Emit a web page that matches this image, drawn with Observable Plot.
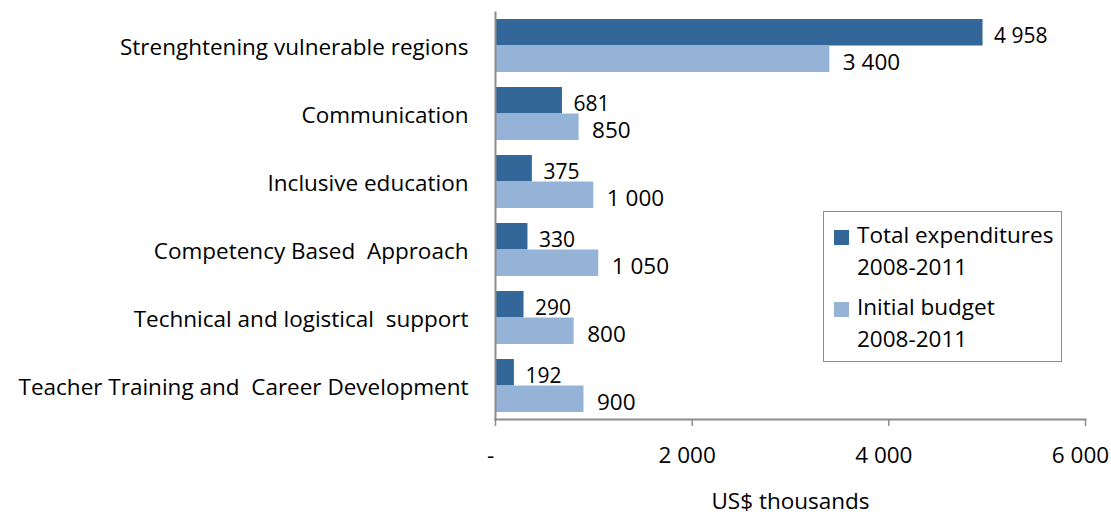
<!DOCTYPE html>
<html>
<head>
<meta charset="utf-8">
<script src="https://cdn.jsdelivr.net/npm/d3@7"></script>
<script src="https://cdn.jsdelivr.net/npm/@observablehq/plot@0.6"></script>
<style>
  html, body { margin: 0; padding: 0; background: #fff; }
  #wrap { position: relative; width: 1111px; height: 516px; font-family: "Open Sans", sans-serif; }
  #legend { position: absolute; left: 823px; top: 211px; width: 239px; height: 151px; box-sizing: border-box;
    border: 1.5px solid #8c8c8c; background: #fff; font-size: 22.5px; color: #000; }
  .item { position: absolute; left: 10px; }
  .sw { position: absolute; left: 0; width: 15px; height: 15px; }
  .lab { position: absolute; left: 23px; line-height: 32px; white-space: nowrap; }
</style>
</head>
<body>
<div id="wrap"><div id="chart"></div>
<div id="legend"></div>
</div>
<script>
const categories = [
  "Strenghtening vulnerable regions",
  "Communication",
  "Inclusive education",
  "Competency Based  Approach",
  "Technical and logistical  support",
  "Teacher Training and  Career Development"
];
const totalExpenditures = [4958, 681, 375, 330, 290, 192];
const initialBudget = [3400, 850, 1000, 1050, 800, 900];
const seriesNames = ["Total expenditures 2008-2011", "Initial budget 2008-2011"];
const seriesColors = ["#336699", "#95b3d7"];
const xTicks = [0, 2000, 4000, 6000];
const xLabel = "US$ thousands";

const fmt = d3.formatLocale({decimal: ".", thousands: " ", grouping: [3], currency: ["", ""]}).format(",d");
const dark = categories.map((c, i) => ({category: c, value: totalExpenditures[i]}));
const light = categories.map((c, i) => ({category: c, value: initialBudget[i]}));

const half = 26.5;
const chart = Plot.plot({
  width: 1111,
  height: 516,
  marginLeft: 495,
  marginRight: 26,
  marginTop: 12,
  marginBottom: 97,
  style: {fontFamily: "'Open Sans', sans-serif", fontSize: "22.5px", color: "#000", background: "#fff"},
  x: {domain: [0, 6000]},
  y: {domain: categories, paddingInner: 0.22, paddingOuter: 0.1},
  marks: [
    Plot.barX(dark, {y: "category", x: "value", fill: seriesColors[0], insetBottom: half}),
    Plot.barX(light, {y: "category", x: "value", fill: seriesColors[1], insetTop: half}),
    Plot.text(dark, {y: "category", x: "value", text: d => fmt(d.value), textAnchor: "start", dx: 11, dy: -10, fontSize: 21, fill: "#000"}),
    Plot.text(light, {y: "category", x: "value", text: d => fmt(d.value), textAnchor: "start", dx: 13, dy: 17, fontSize: 22.5, fill: "#000"}),
    Plot.axisX({ticks: xTicks, tickSize: 7, stroke: "#8c8c8c", strokeWidth: 1.5, text: null, label: null}),
    Plot.frame({anchor: "left", stroke: "#8c8c8c", strokeWidth: 2}),
    Plot.frame({anchor: "bottom", stroke: "#8c8c8c", strokeWidth: 2}),
    Plot.axisY({tickSize: 0, tickPadding: 27, fontSize: 22.5, dy: 2, label: null}),
    Plot.axisX({ticks: xTicks, tickSize: 0, tickPadding: 28, fontSize: 22.5, dx: -5, label: null,
      tickFormat: d => d === 0 ? "-" : fmt(d)}),
    Plot.text([xLabel], {frameAnchor: "bottom", dy: 89, fontSize: 22.5, fill: "#000"})
  ]
});
document.getElementById("chart").appendChild(chart);

const legend = document.getElementById("legend");
const tops = [7, 79];
seriesNames.forEach((name, i) => {
  const parts = name.split(" 2008");
  const item = document.createElement("div");
  item.className = "item";
  item.style.top = tops[i] + "px";
  item.innerHTML = `<div class="sw" style="top:11px;background:${seriesColors[i]}"></div>
    <div class="lab" style="top:0">${parts[0]}</div>
    <div class="lab" style="top:32px">2008${parts[1]}</div>`;
  legend.appendChild(item);
});
</script>
</body>
</html>
